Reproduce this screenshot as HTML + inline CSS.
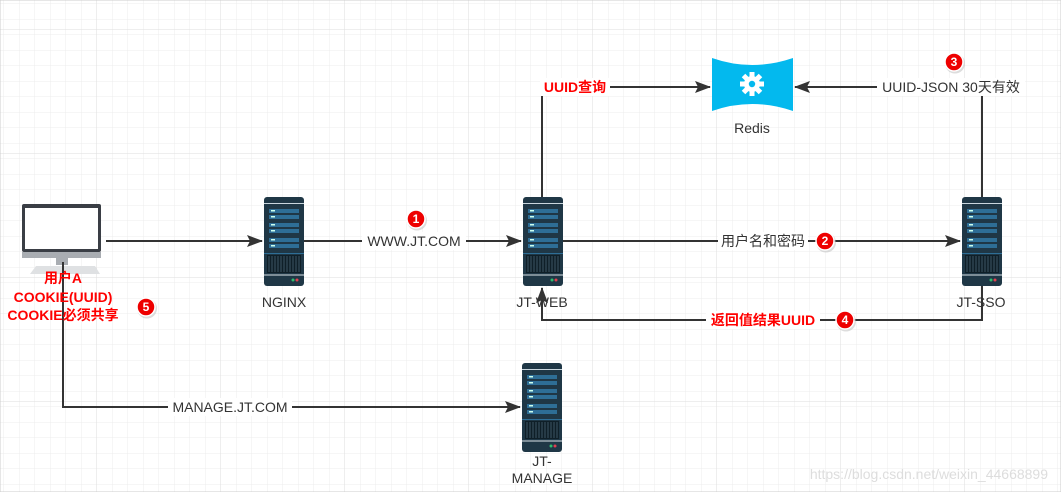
<!DOCTYPE html>
<html><head><meta charset="utf-8"><style>
html,body{margin:0;padding:0;background:#fff;}
svg{display:block;font-family:"Liberation Sans","Noto Sans CJK SC",sans-serif;}
</style></head><body>
<svg width="1061" height="492" viewBox="0 0 1061 492" xmlns="http://www.w3.org/2000/svg">
<defs>
<pattern id="minor" x="4" y="4" width="15.5" height="15.5" patternUnits="userSpaceOnUse">
<path d="M15.5 0V15.5H0" fill="none" stroke="#ececec" stroke-width="1"/></pattern>
<pattern id="major" x="97" y="30" width="124" height="124" patternUnits="userSpaceOnUse">
<path d="M124 0V124H0" fill="none" stroke="#dedede" stroke-width="1"/></pattern>
<marker id="ar" markerWidth="16" markerHeight="12" refX="15" refY="6" orient="auto" markerUnits="userSpaceOnUse">
<path d="M0,0 L16,6 L0,12 L3,6 Z" fill="#333"/></marker>
<g id="srv">
<rect x="0" y="0" width="40" height="89" rx="3" fill="#1f3746"/>
<rect x="0" y="6" width="40" height="1" fill="#c9d6de"/>
<rect x="5" y="12" width="30" height="4" fill="#2e6e96"/><rect x="7" y="13" width="4" height="1.5" fill="#cfe"/>
<rect x="5" y="18" width="30" height="4" fill="#2e6e96"/><rect x="7" y="19" width="4" height="1.5" fill="#cfe"/>
<rect x="5" y="26" width="30" height="4" fill="#2e6e96"/><rect x="7" y="27" width="4" height="1.5" fill="#cfe"/>
<rect x="5" y="32" width="30" height="4" fill="#2e6e96"/><rect x="7" y="33" width="4" height="1.5" fill="#cfe"/>
<rect x="5" y="41" width="30" height="4" fill="#2e6e96"/><rect x="7" y="42" width="4" height="1.5" fill="#cfe"/>
<rect x="5" y="47" width="30" height="4" fill="#2e6e96"/><rect x="7" y="48" width="4" height="1.5" fill="#cfe"/>
<rect x="0" y="56" width="40" height="1" fill="#2e6e96"/>
<rect x="3" y="58" width="34" height="18" fill="#0f1f28"/>
<path d="M5 59V75M8 59V75M11 59V75M14 59V75M17 59V75M20 59V75M23 59V75M26 59V75M29 59V75M32 59V75M35 59V75" stroke="#3c5564" stroke-width="1"/>
<rect x="0" y="77" width="40" height="2" fill="#7d8d97"/>
<circle cx="29" cy="83" r="1.5" fill="#2dbb6d"/><circle cx="33" cy="83" r="1.5" fill="#e04050"/>
</g>
<g id="bd"><circle r="10" fill="#bbb" opacity=".5" transform="translate(1,1.5)"/><circle r="9" fill="#e00" stroke="#fff" stroke-width="1.5"/></g>
</defs>
<rect width="1061" height="492" fill="#fff"/>
<rect width="1061" height="492" fill="url(#minor)"/>
<rect width="1061" height="492" fill="url(#major)"/>
<rect x="0" y="0" width="1061" height="492" fill="none" stroke="#ccc"/>

<!-- monitor -->
<rect x="22" y="204" width="79" height="48" rx="2" fill="#3a3e45"/>
<rect x="25" y="208" width="73" height="41" fill="#fff"/>
<rect x="22" y="252" width="79" height="6" fill="#a9adb2"/>
<rect x="56" y="258" width="12" height="7" fill="#a9adb2"/>
<path d="M30 274 L36 266 L95 266 L100 274 Z" fill="#dfe1e3"/>

<!-- servers -->
<use href="#srv" x="264" y="197"/>
<use href="#srv" x="523" y="197"/>
<use href="#srv" x="962" y="197"/>
<use href="#srv" x="522" y="363"/>

<!-- redis -->
<path d="M712 58 Q752 72 793 58 L793 111 Q752 97 712 111 Z" fill="#03b9ee"/>
<g transform="translate(752,84)" fill="#fff">
<circle r="8"/>
<g><rect x="-2.5" y="-12" width="5" height="24"/><rect x="-2.5" y="-12" width="5" height="24" transform="rotate(45)"/><rect x="-2.5" y="-12" width="5" height="24" transform="rotate(90)"/><rect x="-2.5" y="-12" width="5" height="24" transform="rotate(135)"/></g>
<circle r="3.2" fill="#03b9ee"/>
</g>

<!-- connectors -->
<g fill="none" stroke="#333" stroke-width="2">
<path d="M106 241 H262" marker-end="url(#ar)"/>
<path d="M304 241 H521" marker-end="url(#ar)"/>
<path d="M563 241 H960" marker-end="url(#ar)"/>
<path d="M982 286 V320 H542 V288" marker-end="url(#ar)"/>
<path d="M542 197 V87 H710" marker-end="url(#ar)"/>
<path d="M982 197 V87 H795" marker-end="url(#ar)"/>
<path d="M63 262 V407 H520" marker-end="url(#ar)"/>
</g>

<!-- labels -->
<g font-size="14" fill="#333" text-anchor="middle">
<rect x="362" y="232" width="104" height="18" fill="#fff"/>
<text x="414" y="246">WWW.JT.COM</text>
<rect x="718" y="232" width="90" height="18" fill="#fff"/>
<text x="763" y="246">用户名和密码</text>
<rect x="877" y="78" width="148" height="18" fill="#fff"/>
<text x="951" y="92">UUID-JSON 30天有效</text>
<rect x="168" y="398" width="124" height="18" fill="#fff"/>
<text x="230" y="412">MANAGE.JT.COM</text>
<text x="284" y="307">NGINX</text>
<text x="542" y="307">JT-WEB</text>
<text x="981" y="307">JT-SSO</text>
<text x="542" y="466">JT-</text>
<text x="542" y="483">MANAGE</text>
<text x="752" y="133">Redis</text>
</g>
<g font-size="14" font-weight="bold" fill="#f00" text-anchor="middle">
<rect x="540" y="78" width="70" height="18" fill="#fff"/>
<text x="575" y="92">UUID查询</text>
<rect x="706" y="311" width="114" height="18" fill="#fff"/>
<text x="763" y="325">返回值结果UUID</text>
<text x="63" y="283">用户A</text>
<text x="63" y="302">COOKIE(UUID)</text>
<text x="63" y="320">COOKIE必须共享</text>
</g>
<text x="1048" y="479" font-size="14" fill="#ddd" text-anchor="end">https://blog.csdn.net/weixin_44668899</text>

<!-- badges -->
<g font-size="12" font-weight="bold" fill="#fff" text-anchor="middle">
<use href="#bd" x="416" y="219"/><text x="416" y="223">1</text>
<use href="#bd" x="825" y="241"/><text x="825" y="245">2</text>
<use href="#bd" x="954" y="62"/><text x="954" y="66">3</text>
<use href="#bd" x="845" y="320"/><text x="845" y="324">4</text>
<use href="#bd" x="146" y="307"/><text x="146" y="311">5</text>
</g>
</svg>
</body></html>
